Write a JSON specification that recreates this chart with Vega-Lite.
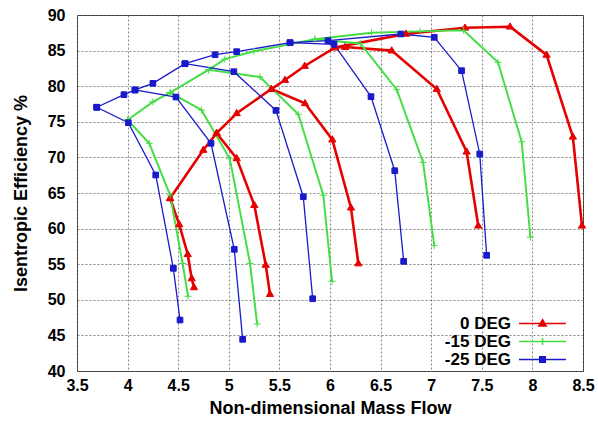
{
  "$schema": "https://vega.github.io/schema/vega-lite/v6.json",
  "width": 506,
  "height": 356,
  "autosize": {"type": "none"},
  "padding": {"left": 77, "top": 15, "right": 15, "bottom": 52},
  "background": "white",
  "config": {
    "font": "Liberation Sans",
    "view": {"stroke": "#333", "strokeWidth": 1},
    "axis": {
      "labelFont": "Liberation Sans", "labelFontWeight": "bold", "labelFontSize": 16, "labelColor": "black",
      "titleFont": "Liberation Sans", "titleFontWeight": "bold", "titleFontSize": 18, "titleColor": "black",
      "grid": true, "gridColor": "#666", "gridDash": [2, 2], "gridWidth": 0.8, "gridOpacity": 1,
      "domain": false, "ticks": false
    }
  },
  "data": {"values": [
    {"series": "0 DEG", "line": "r0", "flow": 4.42, "eff": 64.26},
    {"series": "0 DEG", "line": "r0", "flow": 4.748, "eff": 71.04},
    {"series": "0 DEG", "line": "r0", "flow": 4.88, "eff": 73.4},
    {"series": "0 DEG", "line": "r0", "flow": 5.078, "eff": 76.2},
    {"series": "0 DEG", "line": "r0", "flow": 5.42, "eff": 79.6},
    {"series": "0 DEG", "line": "r0", "flow": 5.555, "eff": 80.87},
    {"series": "0 DEG", "line": "r0", "flow": 5.75, "eff": 82.84},
    {"series": "0 DEG", "line": "r0", "flow": 6.05, "eff": 85.45},
    {"series": "0 DEG", "line": "r0", "flow": 6.75, "eff": 87.35},
    {"series": "0 DEG", "line": "r0", "flow": 7.334, "eff": 88.2},
    {"series": "0 DEG", "line": "r0", "flow": 7.779, "eff": 88.36},
    {"series": "0 DEG", "line": "r0", "flow": 8.14, "eff": 84.4},
    {"series": "0 DEG", "line": "r0", "flow": 8.40, "eff": 72.9},
    {"series": "0 DEG", "line": "r0", "flow": 8.49, "eff": 60.4},
    {"series": "0 DEG", "line": "r1", "flow": 4.42, "eff": 64.26},
    {"series": "0 DEG", "line": "r1", "flow": 4.51, "eff": 60.6},
    {"series": "0 DEG", "line": "r1", "flow": 4.594, "eff": 56.4},
    {"series": "0 DEG", "line": "r1", "flow": 4.633, "eff": 53.0},
    {"series": "0 DEG", "line": "r1", "flow": 4.656, "eff": 51.75},
    {"series": "0 DEG", "line": "r2", "flow": 4.88, "eff": 73.4},
    {"series": "0 DEG", "line": "r2", "flow": 5.078, "eff": 69.87},
    {"series": "0 DEG", "line": "r2", "flow": 5.252, "eff": 63.3},
    {"series": "0 DEG", "line": "r2", "flow": 5.365, "eff": 54.9},
    {"series": "0 DEG", "line": "r2", "flow": 5.407, "eff": 50.8},
    {"series": "0 DEG", "line": "r3", "flow": 5.42, "eff": 79.6},
    {"series": "0 DEG", "line": "r3", "flow": 5.753, "eff": 77.6},
    {"series": "0 DEG", "line": "r3", "flow": 6.023, "eff": 72.5},
    {"series": "0 DEG", "line": "r3", "flow": 6.207, "eff": 62.94},
    {"series": "0 DEG", "line": "r3", "flow": 6.28, "eff": 55.1},
    {"series": "0 DEG", "line": "r4", "flow": 6.05, "eff": 85.45},
    {"series": "0 DEG", "line": "r4", "flow": 6.15, "eff": 85.5},
    {"series": "0 DEG", "line": "r4", "flow": 6.61, "eff": 85.0},
    {"series": "0 DEG", "line": "r4", "flow": 7.055, "eff": 79.6},
    {"series": "0 DEG", "line": "r4", "flow": 7.35, "eff": 70.8},
    {"series": "0 DEG", "line": "r4", "flow": 7.465, "eff": 60.4},

    {"series": "-15 DEG", "line": "g0", "flow": 4.0, "eff": 75.25},
    {"series": "-15 DEG", "line": "g0", "flow": 4.25, "eff": 77.8},
    {"series": "-15 DEG", "line": "g0", "flow": 4.42, "eff": 79.1},
    {"series": "-15 DEG", "line": "g0", "flow": 4.80, "eff": 82.3},
    {"series": "-15 DEG", "line": "g0", "flow": 4.96, "eff": 83.8},
    {"series": "-15 DEG", "line": "g0", "flow": 5.25, "eff": 84.9},
    {"series": "-15 DEG", "line": "g0", "flow": 5.85, "eff": 86.6},
    {"series": "-15 DEG", "line": "g0", "flow": 6.41, "eff": 87.5},
    {"series": "-15 DEG", "line": "g0", "flow": 6.89, "eff": 87.7},
    {"series": "-15 DEG", "line": "g0", "flow": 7.32, "eff": 87.85},
    {"series": "-15 DEG", "line": "g0", "flow": 7.66, "eff": 83.36},
    {"series": "-15 DEG", "line": "g0", "flow": 7.894, "eff": 72.2},
    {"series": "-15 DEG", "line": "g0", "flow": 7.98, "eff": 58.8},
    {"series": "-15 DEG", "line": "g1", "flow": 4.0, "eff": 75.25},
    {"series": "-15 DEG", "line": "g1", "flow": 4.214, "eff": 71.98},
    {"series": "-15 DEG", "line": "g1", "flow": 4.42, "eff": 64.7},
    {"series": "-15 DEG", "line": "g1", "flow": 4.544, "eff": 55.1},
    {"series": "-15 DEG", "line": "g1", "flow": 4.597, "eff": 50.5},
    {"series": "-15 DEG", "line": "g2", "flow": 4.42, "eff": 79.1},
    {"series": "-15 DEG", "line": "g2", "flow": 4.73, "eff": 76.66},
    {"series": "-15 DEG", "line": "g2", "flow": 5.01, "eff": 69.8},
    {"series": "-15 DEG", "line": "g2", "flow": 5.21, "eff": 55.1},
    {"series": "-15 DEG", "line": "g2", "flow": 5.28, "eff": 46.6},
    {"series": "-15 DEG", "line": "g3", "flow": 4.80, "eff": 82.3},
    {"series": "-15 DEG", "line": "g3", "flow": 5.308, "eff": 81.3},
    {"series": "-15 DEG", "line": "g3", "flow": 5.687, "eff": 76.05},
    {"series": "-15 DEG", "line": "g3", "flow": 5.934, "eff": 64.7},
    {"series": "-15 DEG", "line": "g3", "flow": 6.02, "eff": 52.6},
    {"series": "-15 DEG", "line": "g4", "flow": 5.85, "eff": 86.6},
    {"series": "-15 DEG", "line": "g4", "flow": 6.30, "eff": 86.0},
    {"series": "-15 DEG", "line": "g4", "flow": 6.66, "eff": 79.5},
    {"series": "-15 DEG", "line": "g4", "flow": 6.92, "eff": 69.3},
    {"series": "-15 DEG", "line": "g4", "flow": 7.03, "eff": 57.6},

    {"series": "-25 DEG", "line": "b0", "flow": 3.695, "eff": 77.04},
    {"series": "-25 DEG", "line": "b0", "flow": 3.964, "eff": 78.81},
    {"series": "-25 DEG", "line": "b0", "flow": 4.073, "eff": 79.47},
    {"series": "-25 DEG", "line": "b0", "flow": 4.25, "eff": 80.4},
    {"series": "-25 DEG", "line": "b0", "flow": 4.567, "eff": 83.16},
    {"series": "-25 DEG", "line": "b0", "flow": 4.864, "eff": 84.42},
    {"series": "-25 DEG", "line": "b0", "flow": 5.078, "eff": 84.85},
    {"series": "-25 DEG", "line": "b0", "flow": 5.605, "eff": 86.11},
    {"series": "-25 DEG", "line": "b0", "flow": 5.98, "eff": 86.4},
    {"series": "-25 DEG", "line": "b0", "flow": 6.70, "eff": 87.33},
    {"series": "-25 DEG", "line": "b0", "flow": 7.03, "eff": 86.87},
    {"series": "-25 DEG", "line": "b0", "flow": 7.30, "eff": 82.18},
    {"series": "-25 DEG", "line": "b0", "flow": 7.48, "eff": 70.48},
    {"series": "-25 DEG", "line": "b0", "flow": 7.548, "eff": 56.25},
    {"series": "-25 DEG", "line": "b1", "flow": 3.695, "eff": 77.04},
    {"series": "-25 DEG", "line": "b1", "flow": 4.007, "eff": 74.87},
    {"series": "-25 DEG", "line": "b1", "flow": 4.278, "eff": 67.53},
    {"series": "-25 DEG", "line": "b1", "flow": 4.452, "eff": 54.42},
    {"series": "-25 DEG", "line": "b1", "flow": 4.518, "eff": 47.16},
    {"series": "-25 DEG", "line": "b2", "flow": 4.073, "eff": 79.47},
    {"series": "-25 DEG", "line": "b2", "flow": 4.478, "eff": 78.48},
    {"series": "-25 DEG", "line": "b2", "flow": 4.824, "eff": 71.98},
    {"series": "-25 DEG", "line": "b2", "flow": 5.054, "eff": 57.09},
    {"series": "-25 DEG", "line": "b2", "flow": 5.137, "eff": 44.45},
    {"series": "-25 DEG", "line": "b3", "flow": 4.567, "eff": 83.16},
    {"series": "-25 DEG", "line": "b3", "flow": 5.05, "eff": 82.04},
    {"series": "-25 DEG", "line": "b3", "flow": 5.466, "eff": 76.6},
    {"series": "-25 DEG", "line": "b3", "flow": 5.736, "eff": 64.48},
    {"series": "-25 DEG", "line": "b3", "flow": 5.829, "eff": 50.15},
    {"series": "-25 DEG", "line": "b4", "flow": 5.605, "eff": 86.11},
    {"series": "-25 DEG", "line": "b4", "flow": 6.04, "eff": 85.88},
    {"series": "-25 DEG", "line": "b4", "flow": 6.405, "eff": 78.53},
    {"series": "-25 DEG", "line": "b4", "flow": 6.64, "eff": 68.13},
    {"series": "-25 DEG", "line": "b4", "flow": 6.728, "eff": 55.4}
  ]},
  "encoding": {
    "x": {
      "field": "flow", "type": "quantitative",
      "scale": {"domain": [3.5, 8.5], "nice": false, "zero": false},
      "axis": {"title": "Non-dimensional Mass Flow", "values": [3.5, 4, 4.5, 5, 5.5, 6, 6.5, 7, 7.5, 8, 8.5], "format": "~g", "labelPadding": 6, "titlePadding": 6, "labelFlush": false}
    },
    "y": {
      "field": "eff", "type": "quantitative",
      "scale": {"domain": [40, 90], "nice": false, "zero": false},
      "axis": {"title": "Isentropic Efficiency %", "values": [40, 45, 50, 55, 60, 65, 70, 75, 80, 85, 90], "labelPadding": 12, "titlePadding": 17}
    }
  },
  "layer": [
    {
      "mark": {"type": "line", "interpolate": "linear"},
      "encoding": {
        "detail": {"field": "line", "type": "nominal"},
        "color": {"field": "series", "type": "nominal", "scale": {"domain": ["0 DEG", "-15 DEG", "-25 DEG"], "range": ["#e60000", "#44dd44", "#1a1acc"]}, "legend": null},
        "strokeWidth": {"field": "series", "type": "ordinal", "scale": {"domain": ["0 DEG", "-15 DEG", "-25 DEG"], "range": [2.6, 1.3, 1.3]}, "legend": null}
      }
    },
    {
      "mark": {"type": "point", "filled": true, "size": 40, "strokeWidth": 1, "opacity": 1},
      "encoding": {
        "color": {"field": "series", "type": "nominal", "scale": {"domain": ["0 DEG", "-15 DEG", "-25 DEG"], "range": ["#e60000", "#44dd44", "#1a1acc"]}, "legend": null},
        "stroke": {"field": "series", "type": "nominal", "scale": {"domain": ["0 DEG", "-15 DEG", "-25 DEG"], "range": ["#e60000", "#44dd44", "#1a1acc"]}, "legend": null},
        "shape": {"field": "series", "type": "nominal", "scale": {"domain": ["0 DEG", "-15 DEG", "-25 DEG"], "range": ["M0,-1.2L1.15,0.75L-1.15,0.75Z", "M-1.1,0H1.1M0,-1.1V1.1", "M-0.9,-0.9H0.9V0.9H-0.9Z"]}, "legend": null}
      }
    },
    {
      "mark": {"type": "point", "filled": true, "opacity": 0, "strokeWidth": 1.6},
      "encoding": {
        "color": {
          "field": "series", "type": "nominal",
          "scale": {"domain": ["0 DEG", "-15 DEG", "-25 DEG"], "range": ["#e60000", "#44dd44", "#1a1acc"]},
          "legend": {
            "title": null, "orient": "none", "legendX": 457, "legendY": 300,
            "symbolSize": 100, "labelAlign": "right", "labelOffset": -40,
            "labelFont": "Liberation Sans", "labelFontSize": 17, "labelFontWeight": "bold", "labelColor": "black",
            "rowPadding": 0, "padding": 0, "labelLimit": 200, "symbolStrokeWidth": 1.6, "symbolOpacity": 1,
            "encode": {"symbols": {"update": {"opacity": {"value": 1}}}}
          }
        },
        "stroke": {
          "field": "series", "type": "nominal",
          "scale": {"domain": ["0 DEG", "-15 DEG", "-25 DEG"], "range": ["#e60000", "#44dd44", "#1a1acc"]},
          "legend": {
            "title": null, "orient": "none", "legendX": 457, "legendY": 300,
            "symbolSize": 100, "labelAlign": "right", "labelOffset": -40,
            "labelFont": "Liberation Sans", "labelFontSize": 17, "labelFontWeight": "bold", "labelColor": "black",
            "rowPadding": 0, "padding": 0, "labelLimit": 200, "symbolStrokeWidth": 1.6, "symbolOpacity": 1,
            "encode": {"symbols": {"update": {"opacity": {"value": 1}}}}
          }
        },
        "shape": {
          "field": "series", "type": "nominal",
          "scale": {"domain": ["0 DEG", "-15 DEG", "-25 DEG"], "range": ["M-4.7,0H4.7M0,-0.75L0.72,0.5L-0.72,0.5Z", "M-4.7,0H4.7M0,-0.7V0.7", "M-4.7,0H4.7M-0.55,-0.55H0.55V0.55H-0.55Z"]},
          "legend": {
            "title": null, "orient": "none", "legendX": 457, "legendY": 300,
            "symbolSize": 100, "labelAlign": "right", "labelOffset": -40,
            "labelFont": "Liberation Sans", "labelFontSize": 17, "labelFontWeight": "bold", "labelColor": "black",
            "rowPadding": 0, "padding": 0, "labelLimit": 200, "symbolStrokeWidth": 1.6, "symbolOpacity": 1,
            "encode": {"symbols": {"update": {"opacity": {"value": 1}}}}
          }
        }
      }
    }
  ],
  "resolve": {
    "scale": {"shape": "independent", "color": "independent", "stroke": "independent"},
    "legend": {"shape": "independent", "color": "independent", "stroke": "independent"}
  }
}
